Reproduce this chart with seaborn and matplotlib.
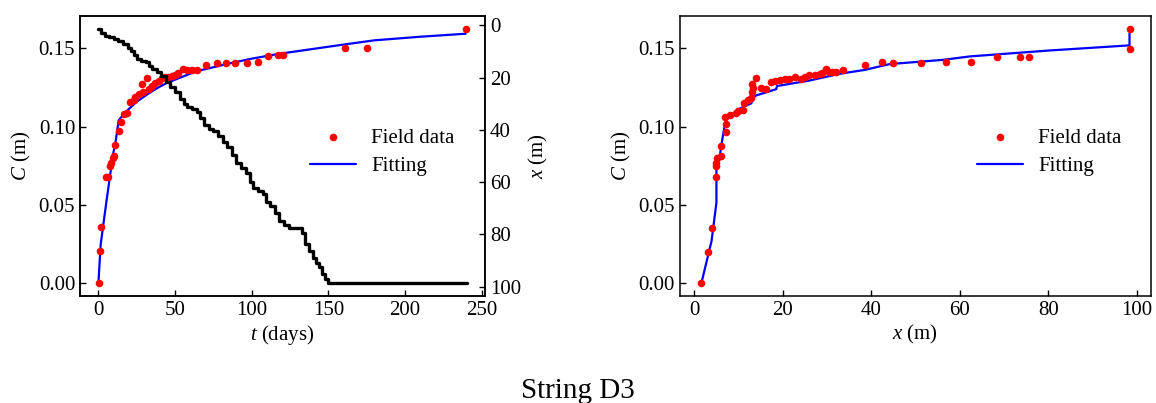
import matplotlib
matplotlib.use("Agg")

import matplotlib.pyplot as plt
import pandas as pd
import seaborn as sns

# --- field data: concentration vs time (left panel) ---
t_field = [0.2, 1.3, 1.7, 5.2, 6.2, 7.4, 8.2, 9.3, 9.9, 11.0, 13.2, 14.7, 16.4,
           18.6, 20.8, 23.0, 24.0, 26.2, 28.4, 29.4, 31.6, 32.7, 34.9, 37.0,
           39.2, 41.3, 43.5, 45.6, 47.8, 49.9, 52.0, 55.4, 57.6, 60.8, 64.1,
           70.1, 77.0, 83.1, 89.0, 97.2, 104.1, 110.6, 117.0, 120.3, 161.0,
           175.0, 239.4]
c_field_t = [0.0, 0.0205, 0.0359, 0.0682, 0.068, 0.075, 0.077, 0.0803, 0.081,
             0.0885, 0.0974, 0.1028, 0.108, 0.109, 0.1156, 0.117, 0.119, 0.121,
             0.127, 0.122, 0.131, 0.124, 0.126, 0.128, 0.129, 0.131, 0.132,
             0.132, 0.1325, 0.133, 0.134, 0.137, 0.136, 0.136, 0.1365, 0.1395,
             0.141, 0.1405, 0.141, 0.141, 0.1415, 0.145, 0.1455, 0.1455, 0.150,
             0.150, 0.1626]

# --- fitted curve vs time ---
t_fit = [0, 1.5, 5.2, 8.5, 10.0, 11.0, 13.2, 16, 20, 25, 31.6, 38, 44.6, 55,
         64, 75, 85.7, 100, 118, 140, 160, 180, 210, 239.4]
c_fit_t = [0.0, 0.025, 0.052, 0.075, 0.0846, 0.089, 0.104, 0.1075, 0.1115,
           0.116, 0.1205, 0.1245, 0.128, 0.132, 0.1355, 0.138, 0.1405, 0.1435,
           0.1466, 0.1497, 0.1525, 0.1552, 0.1575, 0.1594]

# --- string position x vs time (right axis of left panel) ---
t_pos = [0, 2, 4, 7, 10, 13, 16, 19, 21, 23, 25, 28, 31, 33, 35, 38, 41, 44,
         47, 50, 53, 56, 58, 61, 64, 66, 69, 72, 75, 78, 81, 84, 87, 90, 93,
         96, 99, 101, 104, 107, 109, 112, 115, 118, 121, 124, 133, 135, 137,
         140, 142, 144, 146, 148, 150, 240]
x_pos = [1.3, 3.0, 4.0, 4.5, 5.1, 6.0, 7.0, 8.5, 9.8, 11.5, 12.8, 13.5, 14.0,
         15.5, 16.7, 18.0, 19.5, 21.5, 23.5, 25.5, 28.0, 30.0, 31.4, 32.0,
         33.0, 35.5, 38.0, 39.5, 40.5, 42.5, 44.5, 46.5, 49.5, 52.5, 54.5,
         56.5, 60.0, 62.2, 63.5, 64.5, 67.5, 69.0, 72.0, 75.0, 76.5, 77.6,
         79.5, 83.5, 86.5, 89.0, 91.0, 92.5, 95.0, 97.0, 98.7, 98.7]

# --- field data: concentration vs position (right panel) ---
x_field = [1.6, 3.1, 3.9, 5.0, 5.0, 5.0, 5.1, 6.1, 6.0, 7.1, 7.2, 6.9, 8.0,
           9.5, 9.8, 11.0, 11.2, 12.1, 12.7, 13.1, 13.3, 13.1, 14.0, 15.0,
           16.3, 17.4, 18.2, 19.3, 20.4, 21.5, 22.7, 24.2, 25.0, 25.9, 27.2,
           28.3, 28.9, 29.8, 30.4, 31.2, 32.1, 33.6, 38.5, 42.5, 44.9, 51.3,
           56.9, 62.4, 68.4, 73.6, 75.7, 98.3, 98.3]
c_field_x = [0.0, 0.020, 0.0355, 0.068, 0.075, 0.077, 0.080, 0.081, 0.0878,
             0.0968, 0.102, 0.1064, 0.1077, 0.109, 0.110, 0.111, 0.115, 0.117,
             0.1185, 0.122, 0.1248, 0.1274, 0.131, 0.1246, 0.1244, 0.1284,
             0.129, 0.130, 0.1302, 0.1305, 0.1315, 0.1305, 0.1315, 0.133,
             0.1328, 0.1338, 0.134, 0.137, 0.135, 0.135, 0.135, 0.1363, 0.1395,
             0.1412, 0.1408, 0.1408, 0.1412, 0.1414, 0.1444, 0.1448, 0.1448,
             0.1498, 0.1626]

# --- fitted curve vs position ---
x_fit = [1.6, 3.9, 5.0, 5.0, 5.8, 6.5, 7.1, 9.8, 12.9, 13.1, 14.0, 18.5, 18.7,
         26.0, 32.8, 38.5, 44.1, 56.1, 62.2, 80.2, 97.9, 98.3, 98.3]
c_fit_x = [0.0, 0.027, 0.0515, 0.074, 0.082, 0.095, 0.104, 0.111, 0.115,
           0.118, 0.120, 0.124, 0.126, 0.1295, 0.1338, 0.1363, 0.140, 0.1427,
           0.1449, 0.1487, 0.1519, 0.1519, 0.1594]

c_ticks = [0.00, 0.05, 0.10, 0.15]


sns.set_theme(style="ticks")
plt.rcParams["font.family"] = ["Liberation Serif", "DejaVu Serif"]
plt.rcParams["mathtext.fontset"] = "custom"
plt.rcParams["mathtext.rm"] = "Liberation Serif"
plt.rcParams["mathtext.it"] = "Liberation Serif:italic"
plt.rcParams["font.size"] = 15
plt.rcParams["text.color"] = "black"
plt.rcParams["axes.labelcolor"] = "black"
plt.rcParams["axes.edgecolor"] = "black"
plt.rcParams["axes.linewidth"] = 1.1


def style_axis(ax):
    ax.tick_params(direction="in", length=4, width=1, labelsize=15,
                   colors="black")
    for sp in ax.spines.values():
        sp.set_visible(True)
        sp.set_color("black")


fig = plt.figure(figsize=(11.56, 4.03), dpi=100)
ax1 = fig.add_axes([0.0692, 0.2655, 0.3503, 0.6948])
ax3 = fig.add_axes([0.5882, 0.2655, 0.4074, 0.6948])

# left panel: C vs t, with x(t) on twin axis
df_t = pd.DataFrame({"t": t_field, "C": c_field_t})
df_ft = pd.DataFrame({"t": t_fit, "C": c_fit_t})
df_pos = pd.DataFrame({"t": t_pos, "x": x_pos})

sns.scatterplot(data=df_t, x="t", y="C", ax=ax1, color="red", s=30,
                linewidth=0, label="Field data", zorder=3)
sns.lineplot(data=df_ft, x="t", y="C", ax=ax1, color="blue", lw=1.6,
             sort=False, estimator=None, label="Fitting", zorder=2)
ax1.set_yticks(c_ticks)
ax1.set_yticklabels([f"{v:.2f}" for v in c_ticks])
ax1.set_xticks([0, 50, 100, 150, 200, 250])
ax1.set_xlabel(r"$t$ (days)", fontsize=15, labelpad=2)
ax1.set_ylabel(r"$C$ (m)", fontsize=15)
style_axis(ax1)
ax1.legend(loc="center right", bbox_to_anchor=(0.951, 0.514), frameon=False,
           fontsize=15, borderpad=0, handlelength=2.2, handletextpad=0.75,
           labelspacing=0.4)

ax2 = ax1.twinx()
sns.lineplot(data=df_pos, x="t", y="x", ax=ax2, color="black", lw=2.4,
             sort=False, estimator=None, drawstyle="steps-post")
ax2.invert_yaxis()
ax2.set_yticks([0, 20, 40, 60, 80, 100])
ax2.set_ylabel(r"$x$ (m)", fontsize=15)
ax2.set_xlabel("")
style_axis(ax2)

# right panel: C vs x
df_x = pd.DataFrame({"x": x_field, "C": c_field_x})
df_fx = pd.DataFrame({"x": x_fit, "C": c_fit_x})
sns.scatterplot(data=df_x, x="x", y="C", ax=ax3, color="red", s=30,
                linewidth=0, label="Field data", zorder=3)
sns.lineplot(data=df_fx, x="x", y="C", ax=ax3, color="blue", lw=1.6,
             sort=False, estimator=None, label="Fitting", zorder=2)
ax3.set_yticks(c_ticks)
ax3.set_yticklabels([f"{v:.2f}" for v in c_ticks])
ax3.set_xticks([0, 20, 40, 60, 80, 100])
ax3.set_xlabel(r"$x$ (m)", fontsize=15, labelpad=2)
ax3.set_ylabel(r"$C$ (m)", fontsize=15)
style_axis(ax3)
ax3.legend(loc="center right", bbox_to_anchor=(0.96, 0.514), frameon=False,
           fontsize=15, borderpad=0, handlelength=2.2, handletextpad=0.75,
           labelspacing=0.4)

fig.text(0.5, 0.012, "String D3", ha="center", va="baseline", fontsize=21)

fig.savefig("out.png", dpi=100)
plt.close(fig)
